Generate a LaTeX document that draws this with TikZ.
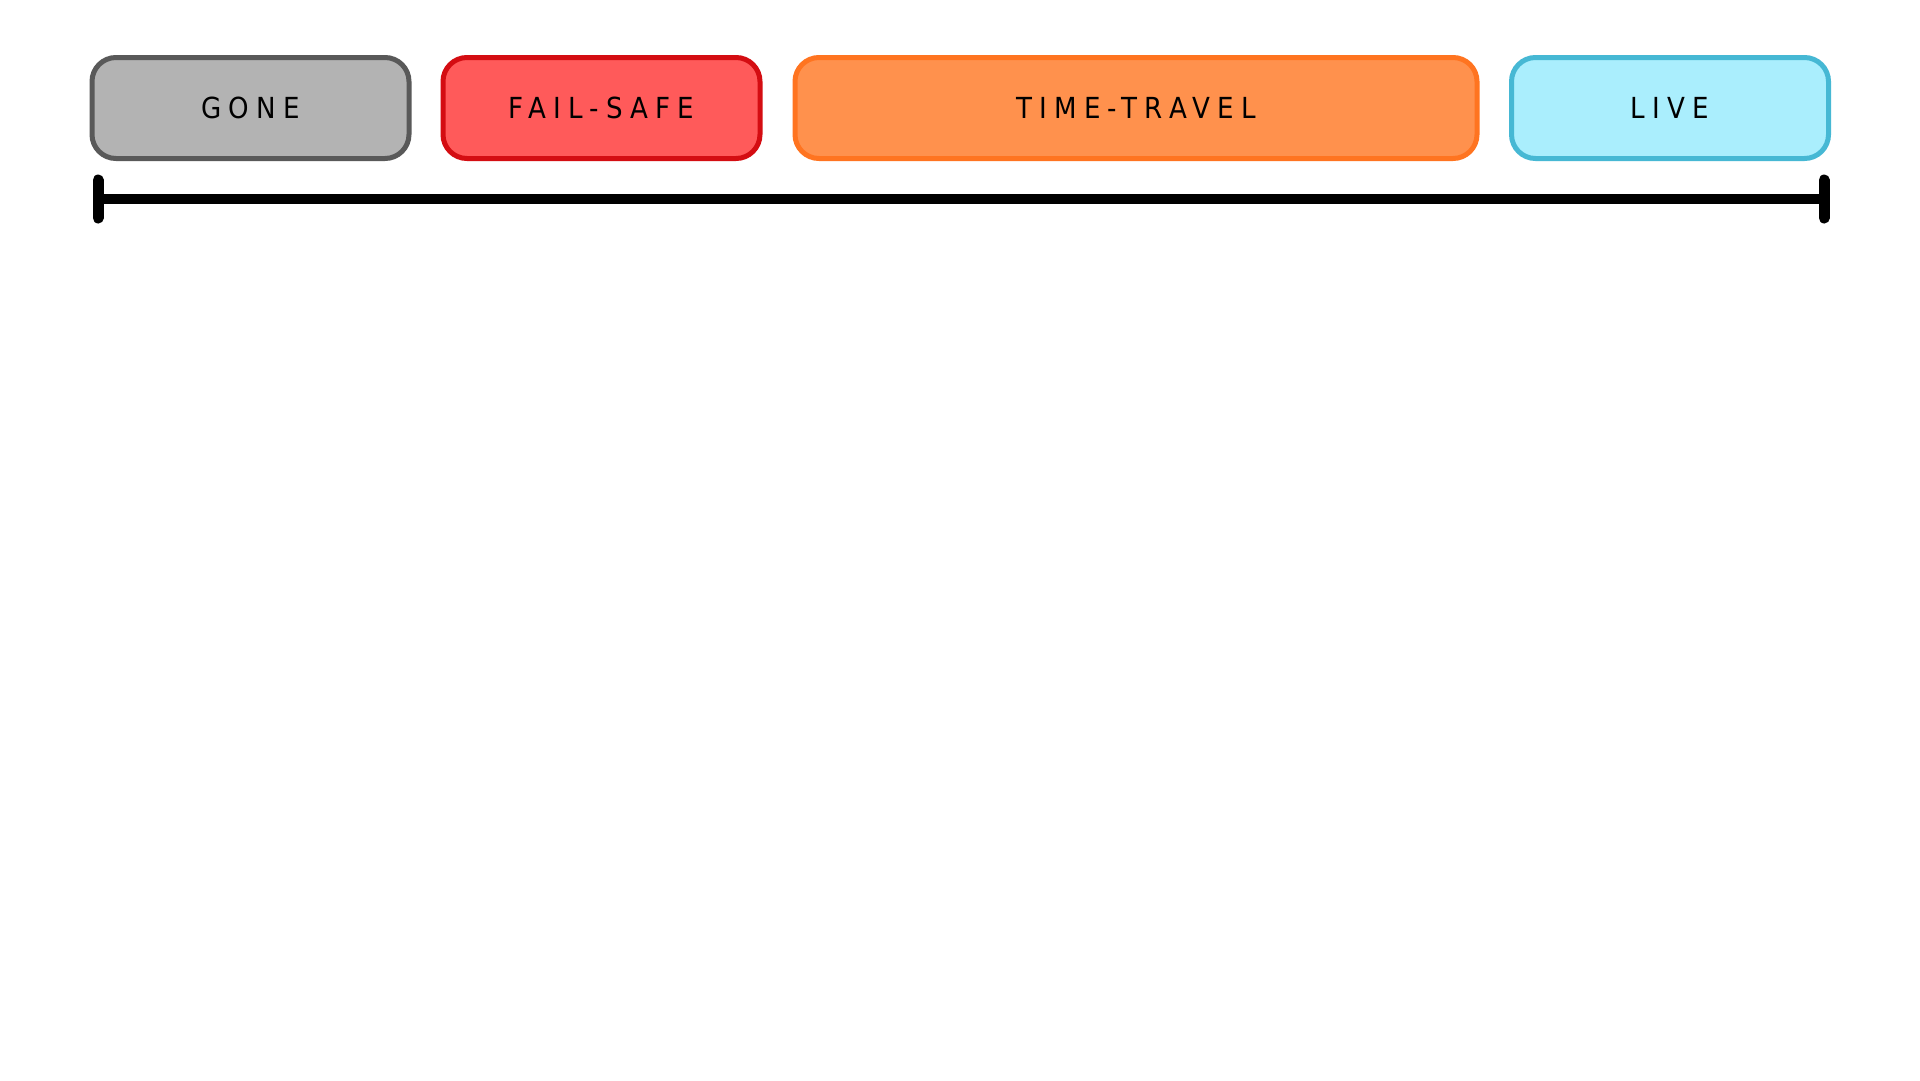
\documentclass[tikz,border=0pt]{standalone}
\usepackage{fontspec}
\setmainfont{DejaVu Sans Condensed}[LetterSpace=25]
\definecolor{goneFill}{HTML}{B3B3B3}
\definecolor{goneDraw}{HTML}{595959}
\definecolor{failFill}{HTML}{FF5A5A}
\definecolor{failDraw}{HTML}{D40D12}
\definecolor{ttFill}{HTML}{FF914D}
\definecolor{ttDraw}{HTML}{FF7420}
\definecolor{liveFill}{HTML}{AAEEFD}
\definecolor{liveDraw}{HTML}{46B8D4}
\begin{document}
\begin{tikzpicture}[x=1pt,y=-1pt,
  phase/.style={draw, line width=5pt, rounded corners=24pt, inner sep=0pt,
    font=\fontsize{29}{33}\selectfont, text=black},
  axis/.style={line width=10pt, draw=black},
  tick/.style={line width=11pt, line cap=round, draw=black}]
\useasboundingbox (0,0) rectangle (1920,1080);
\fill[white] (0,0) rectangle (1920,1080);
\node[phase, fill=goneFill, draw=goneDraw, minimum width=317pt, minimum height=101pt] (gone) at (250.5,108) {GONE};
\node[phase, fill=failFill, draw=failDraw, minimum width=317pt, minimum height=101pt] (fail) at (601.5,108) {FAIL-SAFE};
\node[phase, fill=ttFill, draw=ttDraw, minimum width=682pt, minimum height=101pt] (tt) at (1136,108) {TIME-TRAVEL};
\node[phase, fill=liveFill, draw=liveDraw, minimum width=317pt, minimum height=101pt] (live) at (1670,108) {LIVE};
\coordinate (a) at (98,199);
\coordinate (b) at (1824,199);
\draw[axis] (a) -- (b);
\draw[tick] ([yshift=-19pt]a) -- ([yshift=19pt]a);
\draw[tick] ([yshift=-19pt]b) -- ([yshift=19pt]b);
\end{tikzpicture}
\end{document}
